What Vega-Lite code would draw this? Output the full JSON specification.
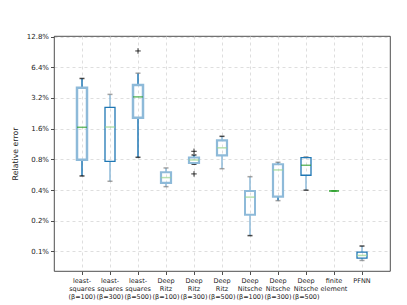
{
  "$schema": "https://vega.github.io/schema/vega-lite/v6.json",
  "width": 336,
  "height": 235,
  "autosize": "none",
  "padding": {"left": 54, "top": 36, "right": 17, "bottom": 34},
  "background": "white",
  "config": {
    "font": "DejaVu Sans",
    "view": {"stroke": "#222", "strokeWidth": 0.8},
    "axis": {
      "gridDash": [3, 3], "gridColor": "#d6d6d6", "gridWidth": 0.8,
      "domain": false, "tickColor": "#222", "tickSize": 3.5, "tickWidth": 0.8,
      "labelColor": "#222", "titleColor": "#222", "labelFont": "DejaVu Sans", "titleFont": "DejaVu Sans"
    }
  },
  "datasets": {
    "boxes": [
      {"method": "least-|squares|(β=100)", "lo": 0.55, "q1": 0.794, "median": 1.65, "q3": 4.02, "hi": 4.97},
      {"method": "least-|squares|(β=300)", "lo": 0.488, "q1": 0.766, "median": 1.66, "q3": 2.59, "hi": 3.47},
      {"method": "least-|squares|(β=500)", "lo": 0.838, "q1": 2.05, "median": 3.28, "q3": 4.3, "hi": 5.6},
      {"method": "Deep|Ritz|(β=100)", "lo": 0.432, "q1": 0.47, "median": 0.53, "q3": 0.598, "hi": 0.659},
      {"method": "Deep|Ritz|(β=300)", "lo": 0.716, "q1": 0.737, "median": 0.789, "q3": 0.834, "hi": 0.883},
      {"method": "Deep|Ritz|(β=500)", "lo": 0.648, "q1": 0.877, "median": 1.038, "q3": 1.23, "hi": 1.346},
      {"method": "Deep|Nitsche|(β=100)", "lo": 0.143, "q1": 0.229, "median": 0.341, "q3": 0.392, "hi": 0.541},
      {"method": "Deep|Nitsche|(β=300)", "lo": 0.315, "q1": 0.345, "median": 0.63, "q3": 0.716, "hi": 0.749},
      {"method": "Deep|Nitsche|(β=500)", "lo": 0.399, "q1": 0.559, "median": 0.7, "q3": 0.831, "hi": 0.838},
      {"method": "finite|element", "lo": 0.392, "q1": 0.392, "median": 0.392, "q3": 0.392, "hi": 0.392},
      {"method": "PFNN", "lo": 0.0816, "q1": 0.0861, "median": 0.0914, "q3": 0.0986, "hi": 0.113}
    ],
    "outliers": [
      {"method": "least-|squares|(β=500)", "value": 9.25},
      {"method": "Deep|Ritz|(β=300)", "value": 0.96},
      {"method": "Deep|Ritz|(β=300)", "value": 0.576}
    ]
  },
  "encoding": {
    "x": {
      "field": "method", "type": "nominal",
      "scale": {
        "domain": ["least-|squares|(β=100)", "least-|squares|(β=300)", "least-|squares|(β=500)", "Deep|Ritz|(β=100)", "Deep|Ritz|(β=300)", "Deep|Ritz|(β=500)", "Deep|Nitsche|(β=100)", "Deep|Nitsche|(β=300)", "Deep|Nitsche|(β=500)", "finite|element", "PFNN"],
        "paddingInner": 0, "paddingOuter": 0.5
      },
      "axis": {
        "title": null, "labelAngle": 0, "labelFontSize": 6.5, "labelLineHeight": 8,
        "labelPadding": 3, "labelExpr": "split(datum.label, '|')", "grid": true, "labelBaseline": "top"
      }
    }
  },
  "layer": [
    {
      "data": {"name": "boxes"},
      "mark": {"type": "rule", "strokeWidth": 1.5},
      "encoding": {
        "y": {
          "field": "lo", "type": "quantitative",
          "scale": {"type": "log", "base": 2, "domain": [0.0643, 12.97], "nice": false, "zero": false},
          "axis": {
            "title": "Relative error", "titleFontSize": 7.8, "titleFontWeight": "normal", "titlePadding": 7,
            "values": [0.1, 0.2, 0.4, 0.8, 1.6, 3.2, 6.4, 12.8],
            "labelExpr": "datum.value + '%'", "labelFontSize": 7, "labelPadding": 2, "grid": true
          }
        },
        "y2": {"field": "q1"},
        "color": {
          "field": "method", "type": "nominal", "legend": null,
          "scale": {
            "domain": ["least-|squares|(β=100)", "least-|squares|(β=300)", "least-|squares|(β=500)", "Deep|Ritz|(β=100)", "Deep|Ritz|(β=300)", "Deep|Ritz|(β=500)", "Deep|Nitsche|(β=100)", "Deep|Nitsche|(β=300)", "Deep|Nitsche|(β=500)", "finite|element", "PFNN"],
            "range": ["#1f77b4", "#8ebad9", "#1f77b4", "#8ebad9", "#1f77b4", "#8ebad9", "#8ebad9", "#1f77b4", "#8ebad9", "#2ca02c", "#8ebad9"]
          }
        }
      }
    },
    {
      "data": {"name": "boxes"},
      "mark": {"type": "rule", "strokeWidth": 1.5},
      "encoding": {
        "y": {"field": "q3", "type": "quantitative", "scale": {"type": "log", "base": 2, "domain": [0.0643, 12.97], "nice": false, "zero": false}},
        "y2": {"field": "hi"},
        "color": {
          "field": "method", "type": "nominal", "legend": null,
          "scale": {
            "domain": ["least-|squares|(β=100)", "least-|squares|(β=300)", "least-|squares|(β=500)", "Deep|Ritz|(β=100)", "Deep|Ritz|(β=300)", "Deep|Ritz|(β=500)", "Deep|Nitsche|(β=100)", "Deep|Nitsche|(β=300)", "Deep|Nitsche|(β=500)", "finite|element", "PFNN"],
            "range": ["#1f77b4", "#8ebad9", "#1f77b4", "#8ebad9", "#1f77b4", "#8ebad9", "#8ebad9", "#1f77b4", "#8ebad9", "#2ca02c", "#8ebad9"]
          }
        }
      }
    },
    {
      "data": {"name": "boxes"},
      "mark": {"type": "tick", "size": 5, "thickness": 1.5},
      "encoding": {
        "y": {"field": "lo", "type": "quantitative", "scale": {"type": "log", "base": 2, "domain": [0.0643, 12.97], "nice": false, "zero": false}},
        "color": {
          "field": "method", "type": "nominal", "legend": null,
          "scale": {
            "domain": ["least-|squares|(β=100)", "least-|squares|(β=300)", "least-|squares|(β=500)", "Deep|Ritz|(β=100)", "Deep|Ritz|(β=300)", "Deep|Ritz|(β=500)", "Deep|Nitsche|(β=100)", "Deep|Nitsche|(β=300)", "Deep|Nitsche|(β=500)", "finite|element", "PFNN"],
            "range": ["#000000", "#7f7f7f", "#000000", "#7f7f7f", "#000000", "#7f7f7f", "#000000", "#7f7f7f", "#000000", "#2ca02c", "#7f7f7f"]
          }
        }
      }
    },
    {
      "data": {"name": "boxes"},
      "mark": {"type": "tick", "size": 5, "thickness": 1.5},
      "encoding": {
        "y": {"field": "hi", "type": "quantitative", "scale": {"type": "log", "base": 2, "domain": [0.0643, 12.97], "nice": false, "zero": false}},
        "color": {
          "field": "method", "type": "nominal", "legend": null,
          "scale": {
            "domain": ["least-|squares|(β=100)", "least-|squares|(β=300)", "least-|squares|(β=500)", "Deep|Ritz|(β=100)", "Deep|Ritz|(β=300)", "Deep|Ritz|(β=500)", "Deep|Nitsche|(β=100)", "Deep|Nitsche|(β=300)", "Deep|Nitsche|(β=500)", "finite|element", "PFNN"],
            "range": ["#000000", "#7f7f7f", "#7f7f7f", "#7f7f7f", "#000000", "#000000", "#7f7f7f", "#7f7f7f", "#000000", "#2ca02c", "#000000"]
          }
        }
      }
    },
    {
      "data": {"name": "boxes"},
      "mark": {"type": "bar", "size": 10, "fill": "white", "fillOpacity": 0},
      "encoding": {
        "y": {"field": "q3", "type": "quantitative", "scale": {"type": "log", "base": 2, "domain": [0.0643, 12.97], "nice": false, "zero": false}},
        "y2": {"field": "q1"},
        "stroke": {
          "field": "method", "type": "nominal", "legend": null,
          "scale": {
            "domain": ["least-|squares|(β=100)", "least-|squares|(β=300)", "least-|squares|(β=500)", "Deep|Ritz|(β=100)", "Deep|Ritz|(β=300)", "Deep|Ritz|(β=500)", "Deep|Nitsche|(β=100)", "Deep|Nitsche|(β=300)", "Deep|Nitsche|(β=500)", "finite|element", "PFNN"],
            "range": ["#8ebad9", "#1f77b4", "#8ebad9", "#8ebad9", "#8ebad9", "#8ebad9", "#8ebad9", "#8ebad9", "#1f77b4", "#2ca02c", "#1f77b4"]
          }
        },
        "strokeWidth": {
          "field": "method", "type": "nominal", "legend": null,
          "scale": {
            "type": "ordinal",
            "domain": ["least-|squares|(β=100)", "least-|squares|(β=300)", "least-|squares|(β=500)", "Deep|Ritz|(β=100)", "Deep|Ritz|(β=300)", "Deep|Ritz|(β=500)", "Deep|Nitsche|(β=100)", "Deep|Nitsche|(β=300)", "Deep|Nitsche|(β=500)", "finite|element", "PFNN"],
            "range": [2.5, 1.3, 2.5, 2.2, 2.2, 2.2, 2, 2.2, 1.3, 0.5, 1.3]
          }
        }
      }
    },
    {
      "data": {"name": "boxes"},
      "mark": {"type": "tick", "size": 10, "thickness": 1.5},
      "encoding": {
        "y": {"field": "median", "type": "quantitative", "scale": {"type": "log", "base": 2, "domain": [0.0643, 12.97], "nice": false, "zero": false}},
        "color": {
          "field": "method", "type": "nominal", "legend": null,
          "scale": {
            "domain": ["least-|squares|(β=100)", "least-|squares|(β=300)", "least-|squares|(β=500)", "Deep|Ritz|(β=100)", "Deep|Ritz|(β=300)", "Deep|Ritz|(β=500)", "Deep|Nitsche|(β=100)", "Deep|Nitsche|(β=300)", "Deep|Nitsche|(β=500)", "finite|element", "PFNN"],
            "range": ["#2ca02c", "#98d48f", "#2ca02c", "#98d48f", "#98d48f", "#98d48f", "#98d48f", "#98d48f", "#2ca02c", "#2ca02c", "#98d48f"]
          }
        }
      }
    },
    {
      "data": {"name": "outliers"},
      "mark": {"type": "point", "shape": "M -1 0 L 1 0 M 0 -1 L 0 1", "size": 30, "filled": false, "stroke": "#000000", "strokeWidth": 0.8, "opacity": 1},
      "encoding": {
        "y": {"field": "value", "type": "quantitative", "scale": {"type": "log", "base": 2, "domain": [0.0643, 12.97], "nice": false, "zero": false}}
      }
    }
  ],
  "resolve": {"scale": {"color": "independent", "stroke": "independent", "strokeWidth": "independent"}}
}
